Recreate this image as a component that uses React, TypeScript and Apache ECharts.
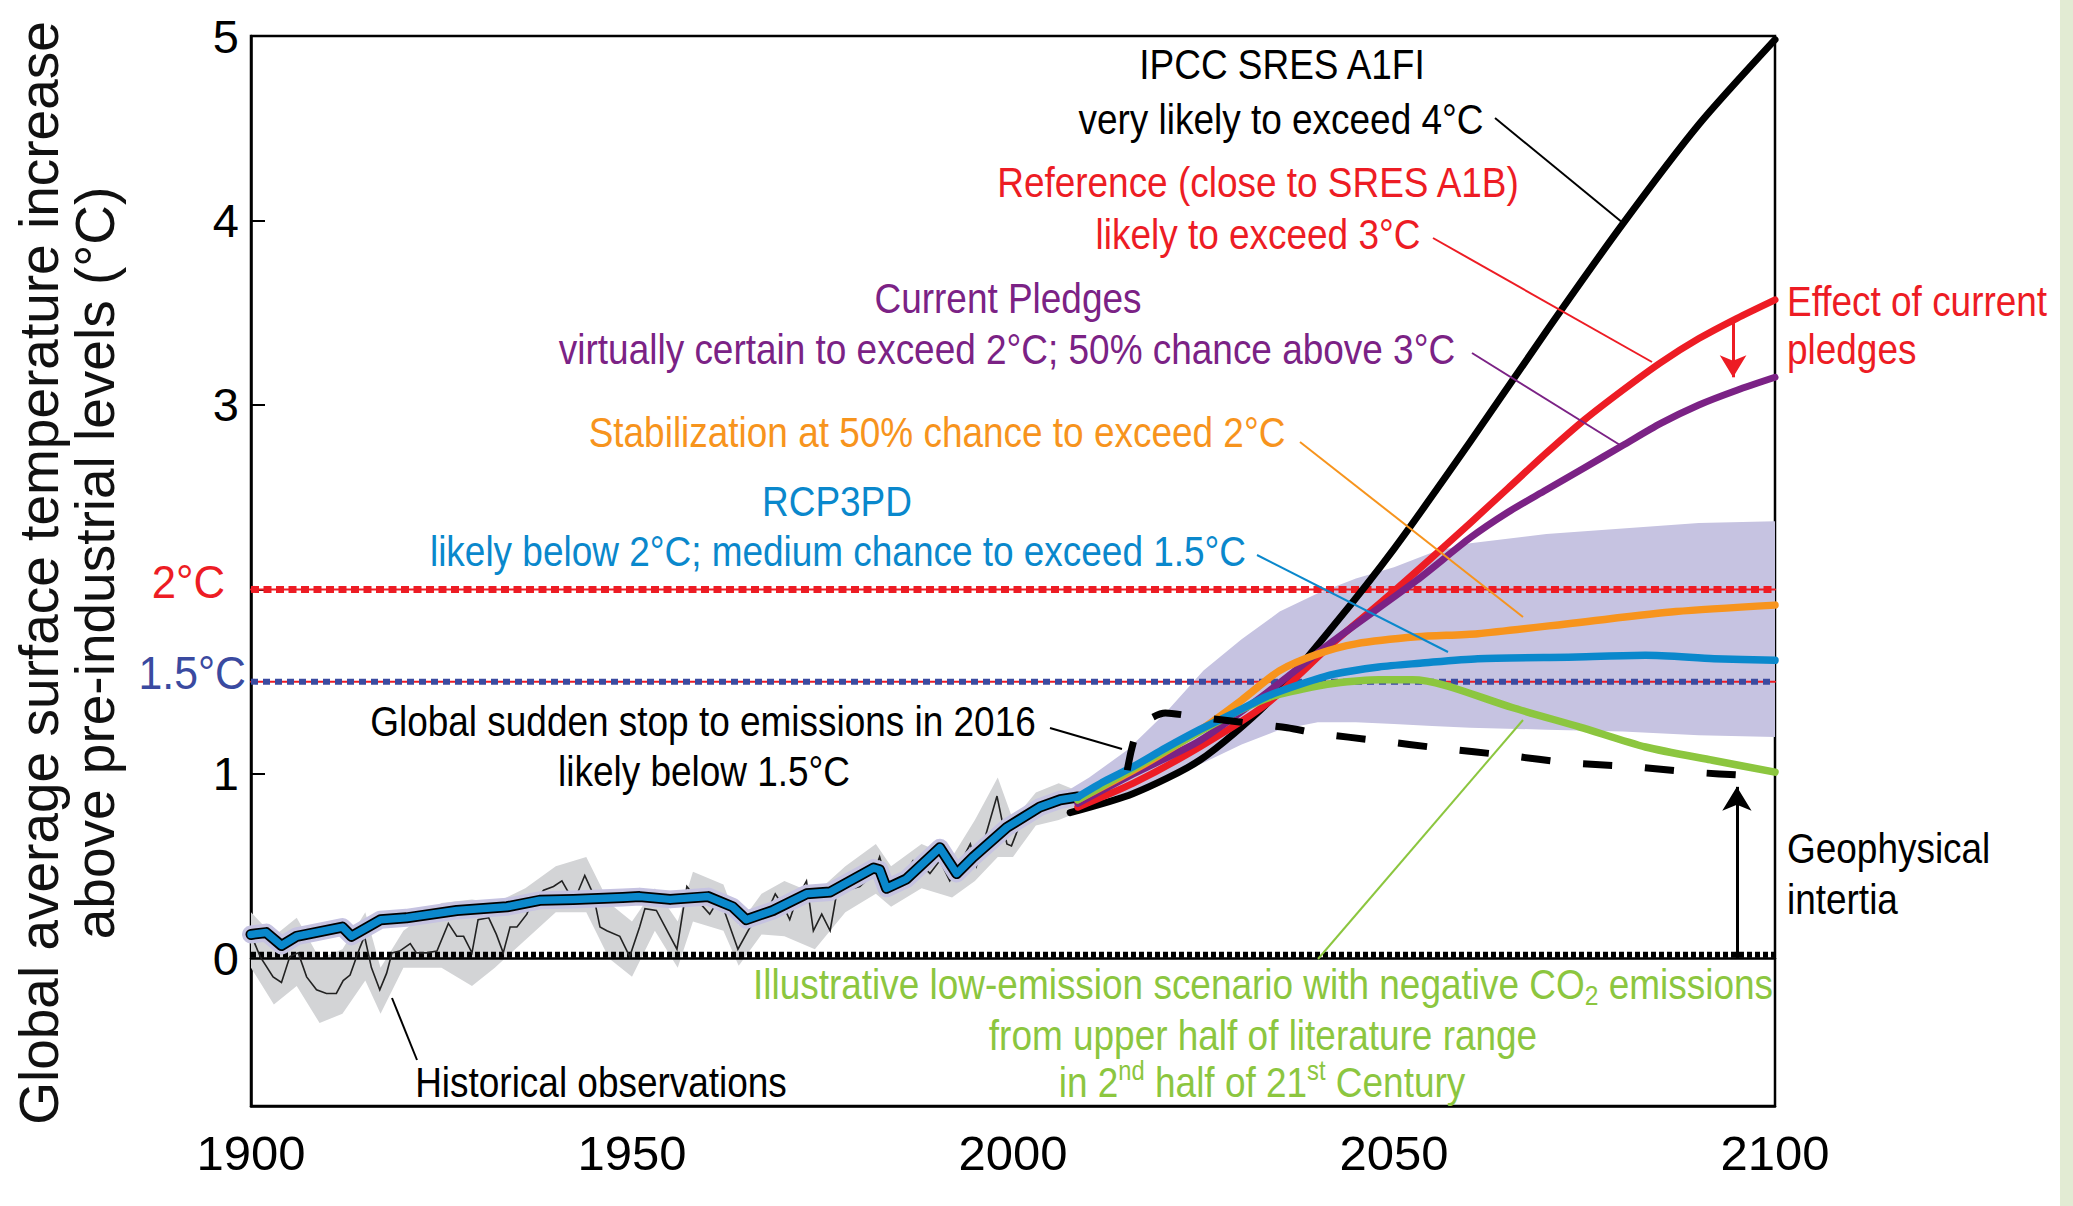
import React, { useEffect, useRef } from 'react';
import * as echarts from 'echarts';

const FONT = "'Liberation Sans', Arial, Helvetica, sans-serif";

// ---- axes ----
const xMin = 1900;
const xMax = 2100;
const xInterval = 50;
const yMin = -0.8;
const yMax = 5;
const yTickValues = [0, 1, 2, 3, 4, 5];
const yLabelValues = [0, 1, 3, 4, 5];

// ---- reference levels ----
const level2 = 2;
const level15 = 1.5;
const level0 = 0;

// ---- historical observations (thin black line) ----
const observations: [number, number][] = [
  [1900, 0.13], [1901.2, 0.01], [1902.9, -0.10], [1904, -0.13], [1905.1, 0.01], [1906.2, 0.03],
  [1907.3, -0.10], [1908.6, -0.17], [1909.9, -0.19], [1911.2, -0.19], [1912.1, -0.12], [1913, -0.09],
  [1914.3, 0.06], [1914.9, 0.12], [1915.8, -0.05], [1916.9, -0.17], [1917.8, -0.08], [1918.5, 0.03],
  [1919.5, 0.04], [1920.9, 0.08], [1921.7, 0.03], [1923.1, 0.03], [1924.4, 0.04], [1925.9, 0.19],
  [1927, 0.12], [1927.9, 0.12], [1929, 0.03], [1929.8, 0.21], [1931.2, 0.22], [1932.2, 0.13],
  [1933.1, 0.03], [1934, 0.17], [1934.9, 0.17], [1936.2, 0.24], [1936.6, 0.28], [1938.4, 0.37],
  [1939.7, 0.39], [1940.8, 0.42], [1941.9, 0.34], [1942.7, 0.34], [1943.8, 0.45], [1944.9, 0.35],
  [1945.8, 0.17], [1946.7, 0.15], [1948.4, 0.12], [1949.7, 0.01], [1951, 0.17], [1951.7, 0.27],
  [1953.2, 0.26], [1955.9, 0.05], [1957.2, 0.39], [1958.9, 0.30], [1960.2, 0.24], [1961.5, 0.33],
  [1963.9, 0.05], [1965.5, 0.17], [1967.6, 0.24], [1968.8, 0.35], [1969.9, 0.28], [1970.7, 0.21],
  [1971.6, 0.32], [1972.9, 0.42], [1973.8, 0.15], [1974.9, 0.24], [1976, 0.15], [1977.1, 0.41],
  [1978.2, 0.37], [1979.9, 0.39], [1981.7, 0.46], [1982.5, 0.55], [1983.6, 0.39], [1985.1, 0.41],
  [1986.9, 0.53], [1988.2, 0.50], [1989.1, 0.46], [1990.4, 0.53], [1991.7, 0.42], [1993, 0.51],
  [1994.4, 0.62], [1995.2, 0.50], [1996.5, 0.68], [1997.9, 0.88], [1999.2, 0.62], [1999.8, 0.61],
  [2001.8, 0.82], [2003.5, 0.80], [2006.2, 0.86], [2008, 0.84],
];

// ---- observation uncertainty (grey band) ----
const obsBandYears = [1900, 1903, 1906, 1909, 1912, 1915, 1917, 1920, 1925, 1929, 1932, 1936, 1940, 1944, 1947, 1950, 1953, 1956, 1958, 1962, 1964, 1967, 1970, 1974, 1978, 1982, 1984, 1988, 1992, 1995, 1998, 2000, 2003, 2006, 2009];
const obsBandLow = [-0.05, -0.25, -0.15, -0.35, -0.30, -0.12, -0.30, -0.05, -0.05, -0.15, -0.05, 0.10, 0.25, 0.25, 0.00, -0.10, 0.15, -0.05, 0.20, 0.15, -0.04, 0.13, 0.12, 0.05, 0.25, 0.35, 0.28, 0.38, 0.33, 0.42, 0.55, 0.55, 0.72, 0.75, 0.80];
const obsBandHigh = [0.25, 0.12, 0.22, 0.00, 0.05, 0.25, -0.05, 0.15, 0.30, 0.32, 0.30, 0.38, 0.50, 0.55, 0.30, 0.20, 0.38, 0.20, 0.47, 0.40, 0.18, 0.35, 0.42, 0.35, 0.50, 0.62, 0.50, 0.62, 0.55, 0.75, 0.98, 0.75, 0.90, 0.95, 0.90];

// ---- modelled history (shared by all scenarios) ----
const modelHistory: [number, number][] = [
  [1900, 0.13], [1902, 0.14], [1904, 0.07], [1906, 0.12], [1912, 0.17], [1913.2, 0.12], [1917, 0.21],
  [1920.4, 0.22], [1927, 0.26], [1933.6, 0.28], [1937.9, 0.315], [1942.3, 0.32], [1948.8, 0.33],
  [1951, 0.335], [1955, 0.32], [1960, 0.335], [1963.2, 0.28], [1965, 0.21], [1968.5, 0.26],
  [1972.9, 0.35], [1976, 0.36], [1981.7, 0.49], [1982.5, 0.48], [1983.4, 0.38], [1986, 0.43],
  [1990.4, 0.60], [1992.6, 0.46], [1994.8, 0.55], [1999.2, 0.71], [2003.5, 0.82], [2006.2, 0.86],
  [2008.5, 0.875],
];

// ---- scenarios (future) ----
const rcp3pd: [number, number][] = [
  [2008.5, 0.875], [2012, 0.96], [2015.8, 1.04], [2020, 1.14], [2024.5, 1.24], [2029, 1.33],
  [2033.3, 1.42], [2038, 1.49], [2042, 1.54], [2048, 1.58], [2053.4, 1.60], [2061, 1.625],
  [2074, 1.634], [2083, 1.643], [2092, 1.625], [2100, 1.616],
];
const stabilization: [number, number][] = [
  [2008.5, 0.86], [2015.8, 1.02], [2020, 1.12], [2025, 1.25], [2030, 1.40], [2035, 1.56],
  [2040, 1.65], [2045, 1.705], [2053, 1.743], [2061, 1.76], [2074, 1.82], [2087, 1.88], [2100, 1.915],
];
const lowEmission: [number, number][] = [
  [2008.5, 0.86], [2015.8, 1.03], [2024.5, 1.23], [2030, 1.35], [2034, 1.42], [2038, 1.46],
  [2042, 1.49], [2048, 1.51], [2052.4, 1.51], [2056.7, 1.48], [2065.5, 1.36], [2074.4, 1.254],
  [2083, 1.146], [2091.8, 1.074], [2100, 1.01],
];
const currentPledges: [number, number][] = [
  [2008.5, 0.84], [2015.8, 1.00], [2024.5, 1.18], [2033.3, 1.44], [2042, 1.72],
  [2053, 2.05], [2060, 2.28], [2065, 2.42], [2070, 2.54], [2075, 2.66], [2080, 2.78], [2085, 2.90],
  [2090, 3.00], [2095, 3.08], [2100, 3.15],
];
const reference: [number, number][] = [
  [2008.5, 0.82], [2015.8, 0.95], [2024.5, 1.146], [2033.3, 1.38], [2042, 1.71], [2048, 1.92],
  [2053, 2.10], [2060, 2.36], [2065, 2.55], [2070, 2.74], [2075, 2.92], [2080, 3.08], [2085, 3.23],
  [2090, 3.36], [2095, 3.47], [2100, 3.57],
];
const sresA1FI: [number, number][] = [
  [2007.5, 0.79], [2015.8, 0.894], [2024.5, 1.074], [2033.3, 1.38], [2042, 1.80], [2050, 2.22],
  [2060, 2.80], [2070, 3.40], [2080, 3.98], [2090, 4.52], [2100, 4.98],
];
const suddenStop: [number, number][] = [
  [2015, 1.02], [2016.5, 1.25], [2020, 1.33], [2024, 1.31], [2030, 1.28], [2036, 1.25], [2040, 1.22],
  [2048, 1.18], [2056, 1.14], [2065, 1.10], [2073, 1.06], [2081, 1.04], [2089, 1.01], [2097, 0.99],
];

// ---- model range (lavender band) ----
const rangeYears = [2006, 2010, 2015, 2020, 2025, 2030, 2035, 2040, 2045, 2050, 2055, 2060, 2070, 2080, 2090, 2100];
const rangeHigh = [0.88, 0.98, 1.13, 1.33, 1.56, 1.73, 1.88, 1.98, 2.06, 2.12, 2.20, 2.25, 2.30, 2.33, 2.36, 2.37];
const rangeLow = [0.82, 0.84, 0.90, 0.98, 1.06, 1.16, 1.24, 1.28, 1.28, 1.27, 1.26, 1.25, 1.24, 1.23, 1.21, 1.20];

// ---- arrows ----
const pledgeArrow = { year: 2094.5, from: 3.45, to: 3.15 };
const inertiaArrow = { year: 2095, from: 0, to: 0.93 };

const C = {
  black: '#000000',
  red: '#ed1c24',
  purple: '#7b2285',
  orange: '#f7941d',
  blue: '#0a88cc',
  green: '#8cc63f',
  indigo: '#3a4aa0',
  lavender: '#c6c3e1',
  grey: '#d3d4d6',
};

function band(name: string, years: number[], low: number[], high: number[], color: string, z: number) {
  return {
    type: 'custom',
    name,
    z,
    silent: true,
    data: [[years[0], low[0]]],
    renderItem: (_params: any, api: any) => {
      const pts: number[][] = [];
      for (let i = 0; i < years.length; i++) pts.push(api.coord([years[i], high[i]]));
      for (let i = years.length - 1; i >= 0; i--) pts.push(api.coord([years[i], low[i]]));
      return { type: 'polygon', shape: { points: pts }, style: { fill: color } };
    },
  };
}

function line(name: string, data: [number, number][], color: string, width: number, z: number, extra: any = {}) {
  return {
    type: 'line',
    name,
    data,
    z,
    silent: true,
    symbol: 'none',
    showSymbol: false,
    lineStyle: { color, width, cap: 'round', join: 'round' },
    emphasis: { disabled: true },
    ...extra,
  };
}

const smoothOpts = { smooth: 0.25 };

function level(v: number): [number, number][] {
  return [[xMin, v], [xMax, v]];
}

function txt(text: string, x: number, y: number, fill: string, align = 'center', extra: any = {}) {
  return {
    type: 'text',
    x,
    y,
    scaleX: 0.88,
    silent: true,
    z: 100,
    style: { text, fill, fontSize: 42, fontFamily: FONT, align, verticalAlign: 'middle', ...extra },
  };
}

function leader(x1: number, y1: number, x2: number, y2: number, stroke: string) {
  return { type: 'line', silent: true, z: 100, shape: { x1, y1, x2, y2 }, style: { stroke, lineWidth: 2 } };
}

export default function App() {
  const ref = useRef<HTMLDivElement>(null);
  useEffect(() => {
    document.body.style.margin = '0';
    document.body.style.overflow = 'hidden';
    const chart = echarts.init(ref.current!, undefined, { renderer: 'svg' });
    const subRich = {
      sub: { fontSize: 28, lineHeight: 32, verticalAlign: 'bottom', fill: C.green, fontFamily: FONT },
      sup: { fontSize: 27, lineHeight: 36, verticalAlign: 'top', fill: C.green, fontFamily: FONT },
    };
    const option: any = {
      animation: false,
      backgroundColor: '#ffffff',
      grid: { left: 251, right: 298, top: 36, bottom: 100, show: true, borderColor: '#000', borderWidth: 2.5, backgroundColor: 'transparent' },
      xAxis: {
        type: 'value',
        min: xMin,
        max: xMax,
        interval: xInterval,
        axisLine: { show: true, onZero: false, lineStyle: { color: '#000', width: 2.5 } },
        axisTick: { show: false },
        splitLine: { show: false },
        axisLabel: { color: '#000', fontSize: 49, fontFamily: FONT, margin: 22, formatter: (v: number) => String(v) },
      },
      yAxis: {
        type: 'value',
        min: yMin,
        max: yMax,
        axisLine: { show: true, onZero: false, lineStyle: { color: '#000', width: 2.5 } },
        axisTick: { show: true, inside: true, length: 14, customValues: yTickValues, lineStyle: { color: '#000', width: 2 } },
        splitLine: { show: false },
        axisLabel: { color: '#000', fontSize: 47, fontFamily: FONT, margin: 12, customValues: yLabelValues, formatter: (v: number) => String(v) },
      },
      series: [
        band('Model range', rangeYears, rangeLow, rangeHigh, C.lavender, 1),
        band('Observation range', obsBandYears, obsBandLow, obsBandHigh, C.grey, 1),
        line('0 line', level(level0), '#000', 2.5, 2),
        line('0 dots', level(level0 + 0.02), '#000', 6, 2, { lineStyle: { color: '#000', width: 6, type: [5, 3] } }),
        line('2C thin', level(level2), C.red, 2, 3),
        line('2C', level(level2), C.red, 7, 3, { lineStyle: { color: C.red, width: 7, type: [8, 4.5] } }),
        line('1.5C thin', level(level15), C.red, 2, 3),
        line('1.5C', level(level15), C.indigo, 6, 3, { lineStyle: { color: C.indigo, width: 6, type: [7, 5] } }),
        line('Historical observations', observations, '#222', 1.6, 4, { lineStyle: { color: '#222', width: 1.6, join: 'miter' } }),
        line('History halo', modelHistory, C.lavender, 18, 5),
        line('History edge', modelHistory, '#000', 11, 5),
        line('IPCC SRES A1FI', sresA1FI, '#000', 7, 6, smoothOpts),
        line('Reference', reference, C.red, 7, 6, smoothOpts),
        line('Current Pledges', currentPledges, C.purple, 7, 6, {
          ...smoothOpts,
          markLine: {
            silent: true,
            symbol: ['none', 'arrow'],
            symbolSize: [20, 22],
            label: { show: false },
            emphasis: { disabled: true },
            lineStyle: { color: C.red, width: 3, type: 'solid' },
            data: [[{ coord: [pledgeArrow.year, pledgeArrow.from] }, { coord: [pledgeArrow.year, pledgeArrow.to] }]],
          },
        }),
        line('Stabilization', stabilization, C.orange, 7.5, 7, smoothOpts),
        line('Low emission', lowEmission, C.green, 7.5, 7, smoothOpts),
        line('RCP3PD history', modelHistory, C.blue, 7.5, 8),
        line('RCP3PD', rcp3pd, C.blue, 7.5, 8, smoothOpts),
        line('Global sudden stop', suddenStop, '#000', 7, 9, {
          ...smoothOpts,
          lineStyle: { color: '#000', width: 7, type: [29, 33], cap: 'butt' },
          markLine: {
            silent: true,
            symbol: ['none', 'arrow'],
            symbolSize: [22, 24],
            label: { show: false },
            emphasis: { disabled: true },
            lineStyle: { color: '#000', width: 3, type: 'solid' },
            data: [[{ coord: [inertiaArrow.year, inertiaArrow.from] }, { coord: [inertiaArrow.year, inertiaArrow.to] }]],
          },
        }),
      ],
      graphic: [
        { type: 'rect', silent: true, z: 0, shape: { x: 2060, y: 0, width: 13, height: 1206 }, style: { fill: '#e2ebd3' } },
        // y-axis title
        { type: 'text', x: 39, y: 573, rotation: Math.PI / 2, silent: true, z: 100,
          style: { text: 'Global average surface temperature increase', fill: '#111', fontSize: 55, fontFamily: FONT, align: 'center', verticalAlign: 'middle' } },
        { type: 'text', x: 95, y: 563, rotation: Math.PI / 2, silent: true, z: 100,
          style: { text: 'above pre-industrial levels (°C)', fill: '#111', fontSize: 55, fontFamily: FONT, align: 'center', verticalAlign: 'middle' } },
        // level labels
        { type: 'text', x: 225, y: 582, silent: true, z: 100, scaleX: 0.93,
          style: { text: '2°C', fill: C.red, fontSize: 47, fontFamily: FONT, align: 'right', verticalAlign: 'middle' } },
        { type: 'text', x: 246, y: 673, silent: true, z: 100, scaleX: 0.93,
          style: { text: '1.5°C', fill: C.indigo, fontSize: 46, fontFamily: FONT, align: 'right', verticalAlign: 'middle' } },
        // annotations
        txt('IPCC SRES A1FI', 1282, 64, '#000'),
        txt('very likely to exceed 4°C', 1281, 119, '#000'),
        leader(1495, 118, 1623, 223, '#000'),
        txt('Reference (close to SRES A1B)', 1258, 182, C.red),
        txt('likely to exceed 3°C', 1258, 234, C.red),
        leader(1433, 238, 1652, 362, C.red),
        txt('Current Pledges', 1008, 298, C.purple),
        txt('virtually certain to exceed 2°C; 50% chance above 3°C', 1007, 349, C.purple),
        leader(1472, 353, 1620, 445, C.purple),
        txt('Stabilization at 50% chance to exceed 2°C', 937, 432, C.orange),
        leader(1300, 442, 1523, 617, C.orange),
        txt('RCP3PD', 837, 501, C.blue),
        txt('likely below 2°C; medium chance to exceed 1.5°C', 838, 551, C.blue),
        leader(1257, 555, 1448, 652, C.blue),
        txt('Global sudden stop to emissions in 2016', 703, 721, '#000'),
        txt('likely below 1.5°C', 704, 771, '#000'),
        leader(1050, 728, 1122, 749, '#000'),
        txt('Historical observations', 601, 1082, '#000'),
        leader(392, 998, 417, 1060, '#000'),
        txt('Illustrative low-emission scenario with negative CO{sub|2} emissions', 1263, 984, C.green, 'center', { lineHeight: 50, rich: subRich }),
        txt('from upper half of literature range', 1263, 1035, C.green),
        txt('in 2{sup|nd} half of 21{sup|st} Century', 1262, 1082, C.green, 'center', { lineHeight: 50, rich: subRich }),
        leader(1318, 959, 1523, 720, C.green),
        txt('Effect of current', 1787, 301, C.red, 'left'),
        txt('pledges', 1787, 349, C.red, 'left'),
        txt('Geophysical', 1787, 848, '#000', 'left'),
        txt('intertia', 1787, 899, '#000', 'left'),
      ],
    };
    chart.setOption(option);
    return () => chart.dispose();
  }, []);
  return <div ref={ref} style={{ width: 2073, height: 1206, background: '#fff' }} />;
}
